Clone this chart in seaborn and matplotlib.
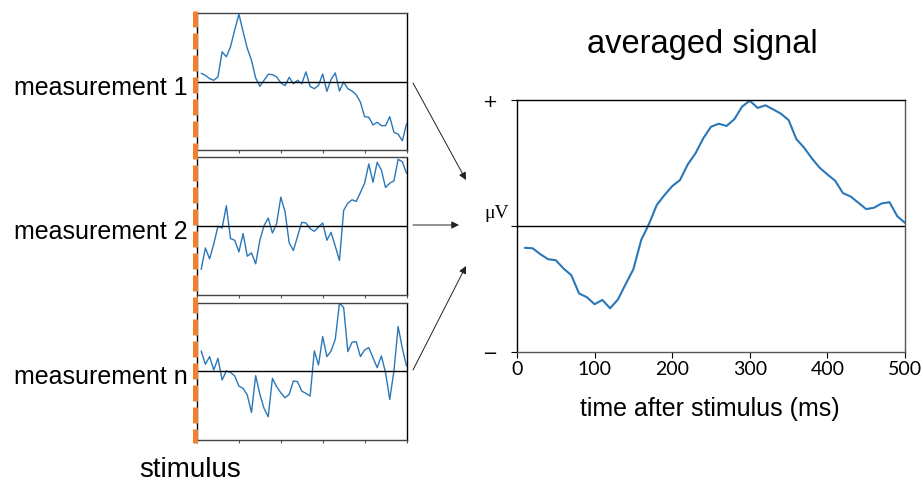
import numpy as np
import matplotlib
matplotlib.use("Agg")
import matplotlib.pyplot as plt
from matplotlib.lines import Line2D
from matplotlib.patches import FancyArrowPatch
import seaborn as sns

# ---------------- data ----------------
time = np.arange(10, 510, 10)

measurement_1 = [0.127, 0.098, 0.049, 0.025, 0.074, 0.441, 0.368, 0.515, 0.76, 0.99,
                 0.735, 0.49, 0.319, 0.059, -0.064, 0.025, 0.113, 0.108, 0.074, -0.01,
                 -0.054, 0.069, -0.025, 0.025, -0.025, 0.147, -0.064, -0.098, -0.049, 0.118,
                 -0.137, 0.039, 0.132, -0.132, 0.0, -0.098, -0.132, -0.186, -0.294, -0.505,
                 -0.515, -0.627, -0.588, -0.637, -0.637, -0.505, -0.735, -0.76, -0.858, -0.613]

measurement_2 = [-0.634, -0.32, -0.479, -0.262, -0.005, -0.029, 0.295, -0.184, -0.208, -0.378,
                 -0.111, -0.441, -0.392, -0.552, -0.208, 0.005, 0.116, -0.102, 0.034, 0.421,
                 0.213, -0.247, -0.358, -0.15, 0.053, 0.044, -0.039, -0.077, -0.015, 0.044,
                 -0.208, -0.092, -0.295, -0.504, 0.228, 0.334, 0.383, 0.358, 0.489, 0.625,
                 0.906, 0.639, 0.93, 0.818, 0.562, 0.625, 0.659, 0.973, 0.939, 0.77]

measurement_n = [0.293, 0.098, 0.21, 0.015, 0.185, -0.132, 0.0, -0.02, -0.073, -0.22,
                 -0.254, -0.351, -0.605, -0.068, -0.337, -0.546, -0.668, -0.107, -0.229, -0.317,
                 -0.39, -0.341, -0.146, -0.156, -0.293, -0.327, -0.366, 0.293, 0.088, 0.502,
                 0.21, 0.293, 0.463, 0.99, 0.927, 0.283, 0.42, 0.429, 0.21, 0.307,
                 0.341, 0.195, 0.049, 0.22, -0.024, -0.415, 0.0, 0.649, 0.332, 0.073]

averaged = [-0.172, -0.175, -0.222, -0.262, -0.27, -0.336, -0.389, -0.534, -0.563, -0.619,
            -0.585, -0.651, -0.582, -0.46, -0.341, -0.111, 0.016, 0.167, 0.246, 0.317,
            0.365, 0.489, 0.577, 0.696, 0.788, 0.812, 0.794, 0.847, 0.947, 0.995,
            0.937, 0.958, 0.926, 0.892, 0.841, 0.69, 0.622, 0.537, 0.463, 0.41,
            0.36, 0.262, 0.235, 0.185, 0.135, 0.146, 0.18, 0.19, 0.079, 0.026]

panel_labels = ["measurement 1", "measurement 2", "measurement n"]
x_ticks = [0, 100, 200, 300, 400, 500]
y_tick_labels = ["\u2212", "", "+"]

# ---------------- style ----------------
sns.set_style("ticks")
plt.rcParams["font.family"] = ["Liberation Sans", "DejaVu Sans"]
plt.rcParams["text.color"] = "black"
plt.rcParams["axes.labelcolor"] = "black"
plt.rcParams["xtick.color"] = "black"
plt.rcParams["ytick.color"] = "black"

W, H = 923, 484
fig = plt.figure(figsize=(W / 100, H / 100), dpi=100)
fig.patch.set_facecolor("white")

def fx(px):
    return px / W

def fy(py):
    return 1 - py / H

line_color = "#2a77b8"

# ---------------- left panels ----------------
tops = [13.5, 157.5, 302.5]
ph = 137
for top, vals, lab in zip(tops, [measurement_1, measurement_2, measurement_n], panel_labels):
    ax = fig.add_axes([fx(197), fy(top + ph), fx(406.5) - fx(197), ph / H])
    sns.lineplot(x=time, y=vals, ax=ax, color=line_color, linewidth=1.0)
    ax.axhline(0, color="black", linewidth=1.0)
    ax.set_xlim(0, 500)
    ax.set_ylim(-1, 1)
    ax.set_xticks(x_ticks)
    ax.set_xticklabels([])
    ax.set_yticks([])
    ax.tick_params(axis="x", bottom=True, direction="out", length=2.5, width=0.8,
                   colors="#555555")
    for s in ["left", "right"]:
        ax.spines[s].set_color("black")
        ax.spines[s].set_linewidth(1.0)
    for s in ["top", "bottom"]:
        ax.spines[s].set_color("#444444")
        ax.spines[s].set_linewidth(1.0)
    ax.set_xlabel("")
    ax.set_ylabel("")
    fig.text(fx(188), fy(top + ph / 2 + 13), lab, ha="right", va="baseline",
             fontsize=18, color="black")

# stimulus dashed line
stim = Line2D([fx(195), fx(195)], [fy(11), fy(443)], transform=fig.transFigure,
              color="#f08030", linewidth=3.6, linestyle=(0, (3.2, 1.2)),
              solid_capstyle="butt", dash_capstyle="butt", zorder=10)
fig.add_artist(stim)
fig.text(fx(190), fy(477), "stimulus", ha="center", va="baseline", fontsize=20)

# arrows
arrows = [((413, 83), (466, 180)), ((413, 225), (459, 225)), ((413, 370), (466, 266))]
for (x0, y0), (x1, y1) in arrows:
    arr = FancyArrowPatch((fx(x0), fy(y0)), (fx(x1), fy(y1)), transform=fig.transFigure,
                          arrowstyle="-|>", mutation_scale=11, color="#222222",
                          linewidth=0.7, shrinkA=0, shrinkB=0)
    fig.add_artist(arr)

# ---------------- averaged panel ----------------
ax2 = fig.add_axes([fx(517), fy(352.3), fx(905) - fx(517), (352.3 - 100) / H])
sns.lineplot(x=time, y=averaged, ax=ax2, color=line_color, linewidth=1.5)
ax2.axhline(0, color="black", linewidth=1.0)
ax2.set_xlim(0, 500)
ax2.set_ylim(-1, 1)
ax2.set_xticks(x_ticks)
ax2.set_xticklabels([str(t) for t in x_ticks], fontfamily="Lato", fontsize=14)
ax2.set_yticks([-1, 0, 1])
ax2.set_yticklabels(y_tick_labels, fontfamily="DejaVu Sans", fontsize=13)
ax2.tick_params(axis="both", direction="out", length=4, width=0.8, colors="black")
ax2.tick_params(axis="x", bottom=True, pad=2)
ax2.tick_params(axis="y", left=True, pad=10)
for s in ["left", "top"]:
    ax2.spines[s].set_visible(True)
    ax2.spines[s].set_color("black")
    ax2.spines[s].set_linewidth(1.0)
for s in ["right", "bottom"]:
    ax2.spines[s].set_visible(True)
    ax2.spines[s].set_color("#555555")
    ax2.spines[s].set_linewidth(1.0)
ax2.set_xlabel("")
ax2.set_ylabel("")
fig.text(fx(497), fy(213), "\u03bcV", ha="center", va="center", fontsize=14,
         family=["Liberation Serif", "DejaVu Serif"])
fig.text(fx(702), fy(53), "averaged signal", ha="center", va="baseline", fontsize=23.5)
fig.text(fx(710), fy(416), "time after stimulus (ms)", ha="center", va="baseline", fontsize=18)

fig.savefig("out.png", dpi=100, facecolor="white")
